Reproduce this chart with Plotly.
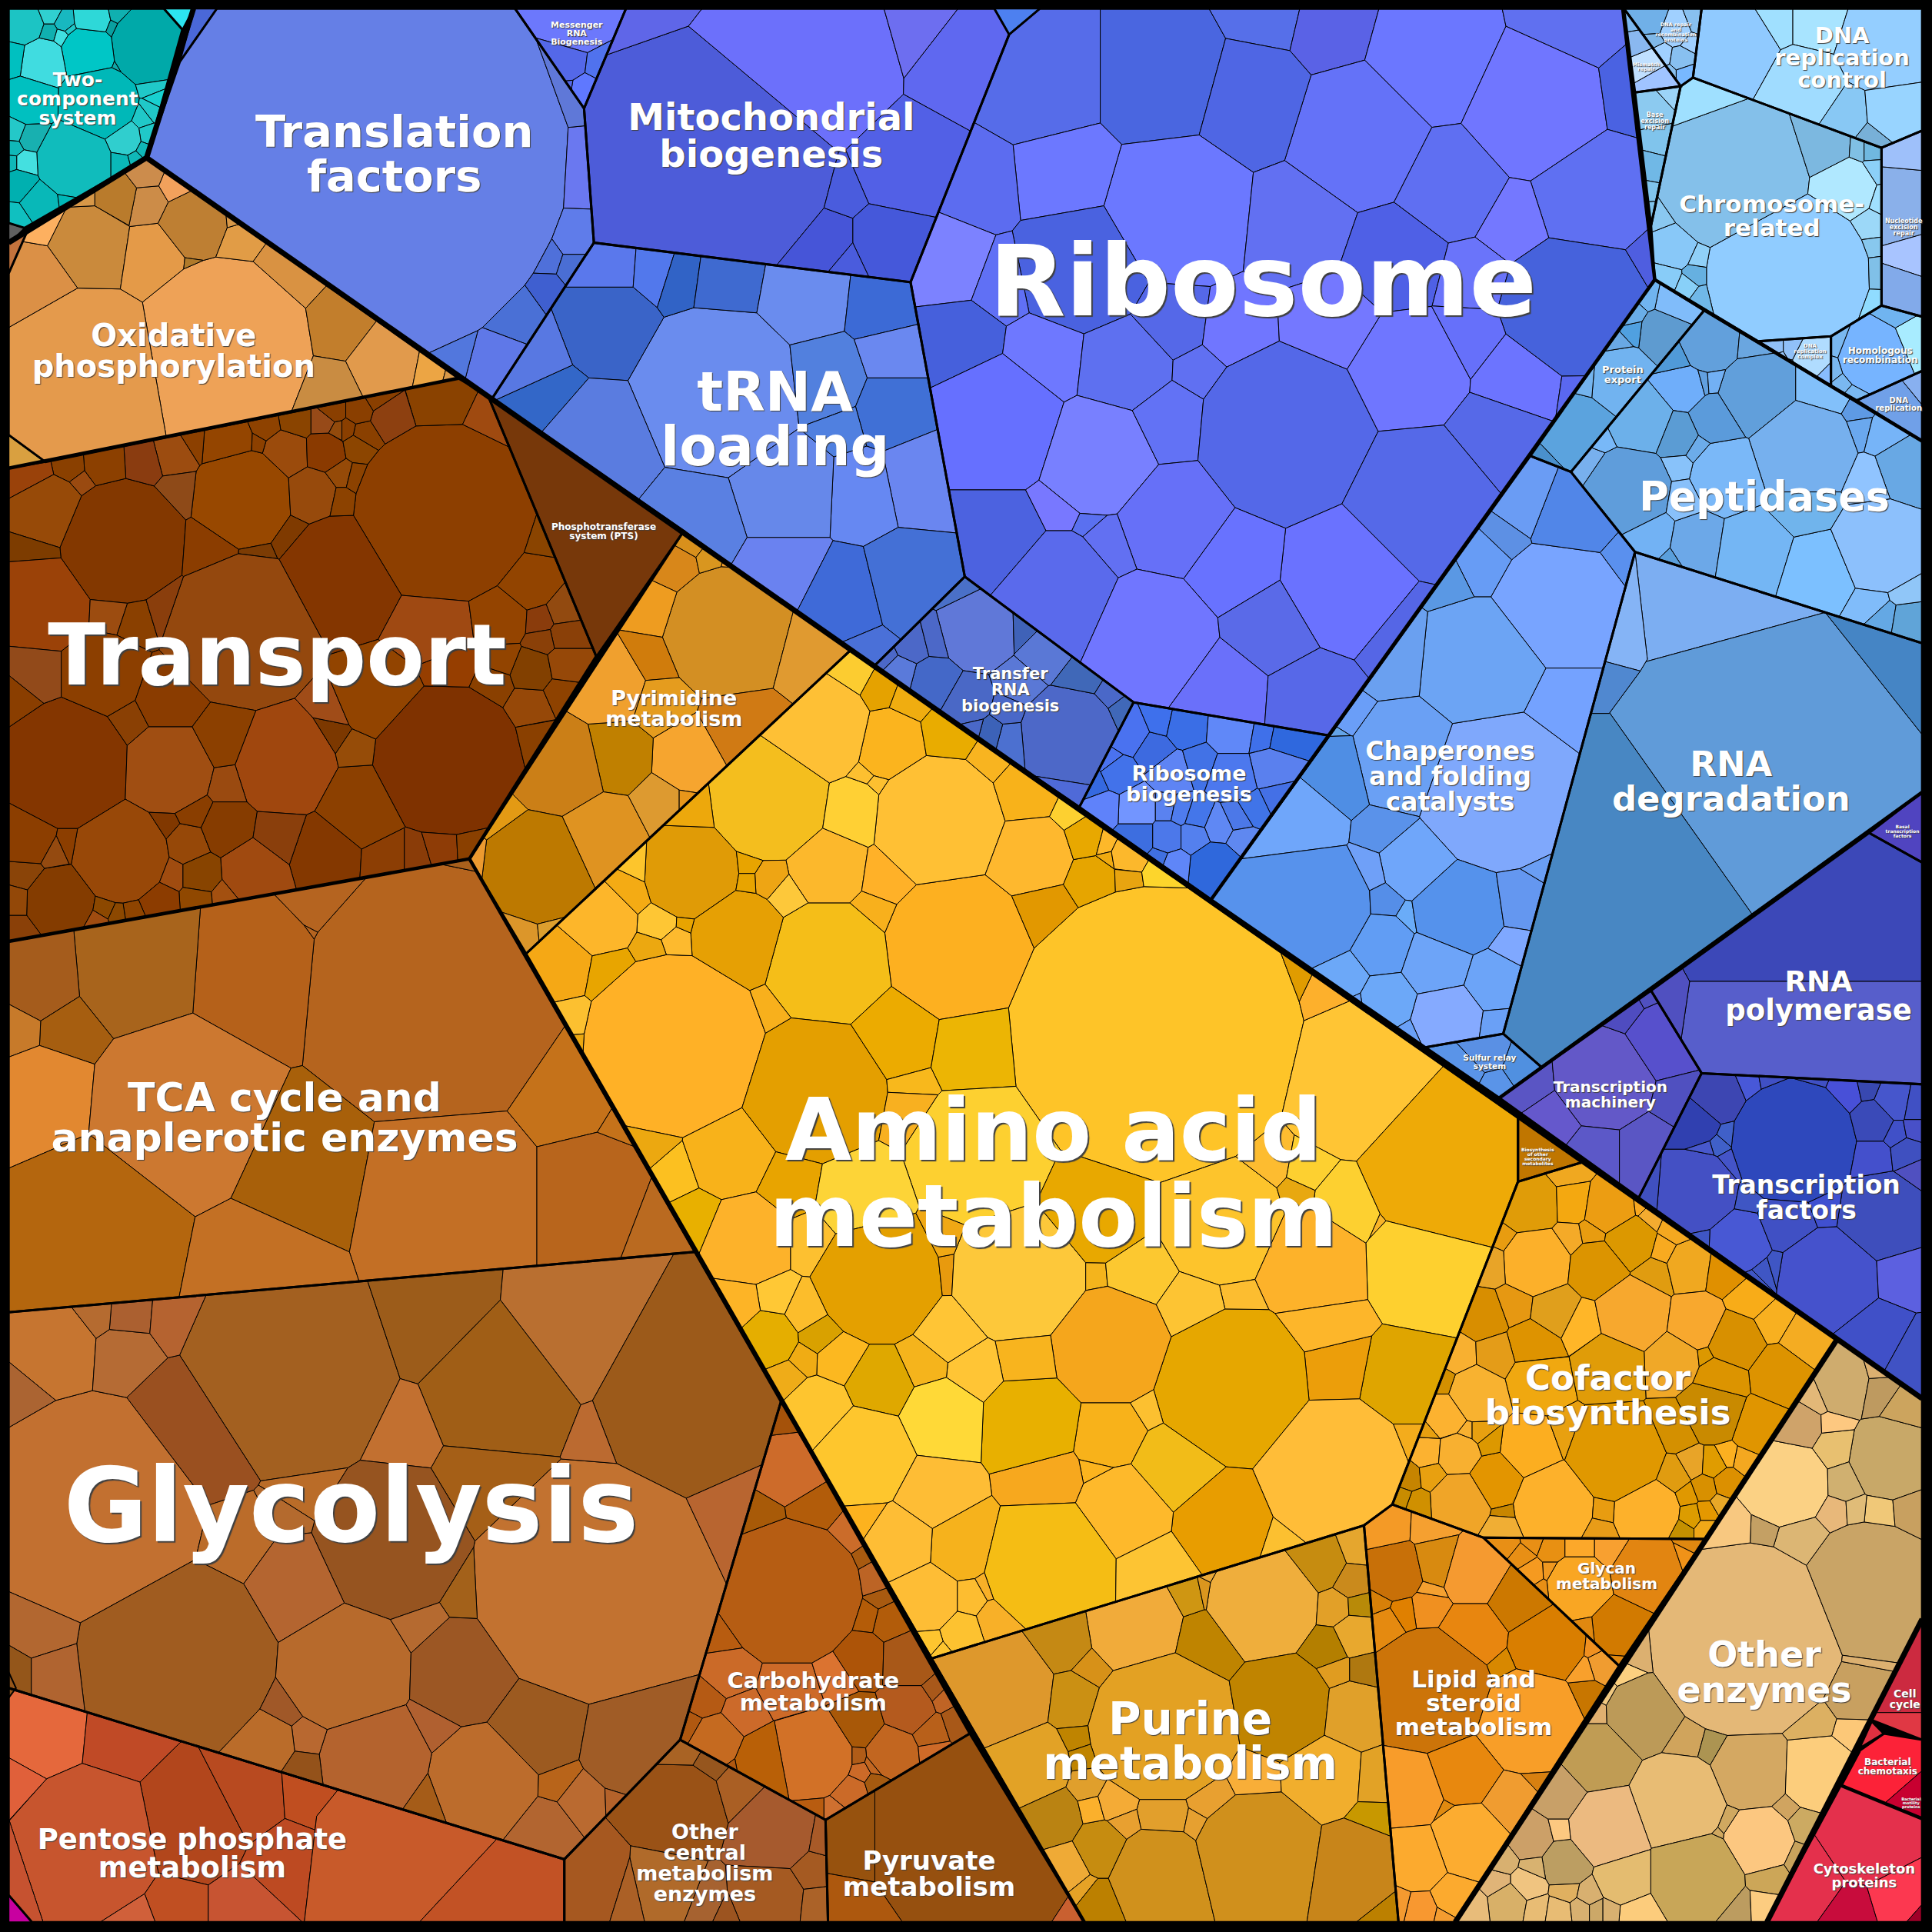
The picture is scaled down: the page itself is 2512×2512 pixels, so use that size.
import plotly.graph_objects as go

# everything in a 1568 wide frame
# outlines are the group borders, cells are (x, y, radius, colour) of the seeds,
# the cell polygons come from a power diagram inside each outline
PIC = 1568
PX = 2512 / PIC

two_component_outline = [(7, 7), (133, 7), (148, 24), (119, 128), (20, 185), (7, 181)]
two_component_cells = [
    (120, 37, 30, "#00a9a9"), (72, 43, 22, "#00c6c6"), (75, 17, 14, "#2ed8d8"), (35, 50, 18, "#40dce0"),
    (20, 20, 14, "#1cc4c4"), (40, 12, 5, "#30d0d0"), (53, 19, 6, "#18b8c0"), (40, 27, 5, "#10b0b0"),
    (50, 30, 5, "#40e0e0"), (57, 24, 4, "#20c8c8"), (14, 47, 8, "#00c0c0"), (80, 83, 30, "#00b8b8"),
    (25, 82, 18, "#00c0c0"), (125, 70, 5, "#20c8c8"), (129, 80, 5, "#18d0d0"), (124, 90, 4, "#20c8c8"),
    (115, 97, 5, "#20c8c8"), (119, 109, 6, "#20c8c8"), (100, 112, 14, "#30cece"), (60, 130, 30, "#10bcbc"),
    (26, 112, 10, "#18b0b0"), (13, 107, 7, "#24c8c8"), (12, 120, 5, "#10b8b8"), (22, 132, 9, "#44e0e0"),
    (11, 132, 4, "#10b8b8"), (17, 150, 12, "#00b0b0"), (32, 163, 14, "#08b8b8"), (55, 160, 5, "#00b8b8"),
    (14, 175, 6, "#10c0c0"), (97, 130, 7, "#0ab8b8"), (108, 127, 3, "#10b8b8"), (115, 120, 3, "#10b8b8"),
    (90, 23, 5, "#0aa0a0"), (95, 13, 4, "#10b0b0"), (95, 52, 4, "#10a8a8"),
]

oxidative_outline = [(119, 128), (372, 307), (37, 375), (7, 353), (7, 222), (22, 188)]
oxidative_cells = [
    (183, 280, 70, "#eea257"), (70, 300, 65, "#e49a4c"), (72, 200, 32, "#ca8a3c"), (125, 208, 25, "#e49a48"),
    (30, 230, 30, "#db9046"), (157, 183, 27, "#be7f33"), (120, 165, 15, "#cc8c48"), (95, 160, 17, "#b97b2c"),
    (118, 142, 12, "#cc8c4c"), (142, 152, 11, "#f2a15c"), (38, 183, 13, "#fdb060"), (70, 160, 3, "#d89848"),
    (193, 197, 14, "#e19c46"), (232, 225, 26, "#d99242"), (188, 180, 3, "#d89848"), (275, 265, 27, "#c27e2c"),
    (310, 292, 28, "#e19a4c"), (267, 313, 22, "#c98c42"), (350, 300, 11, "#eca544"), (365, 304, 3, "#d89848"),
    (153, 211, 3, "#b07a2a"),
]

translation_outline = [(146, 50), (176, 7), (418, 7), (474, 88), (482, 197), (399, 324), (119, 128)]
translation_cells = [
    (295, 130, 165, "#657fe6"), (467, 140, 17, "#6a78f0"), (465, 195, 10, "#5f7cea"), (444, 210, 9, "#4f70da"),
    (465, 217, 9, "#4a6ed4"), (443, 235, 10, "#3f5fd0"), (418, 253, 18, "#4a70d6"), (403, 293, 18, "#5f78e8"),
    (365, 283, 15, "#5277dd"), (460, 70, 6, "#5f78d8"),
]

messenger_outline = [(418, 7), (508, 7), (474, 88)]
messenger_cells = [
    (468, 22, 20, "#6c78fc"), (460, 50, 15, "#5468e8"), (474, 72, 10, "#5f78ff"), (484, 53, 7, "#5072ee"),
    (462, 70, 2, "#5468e8"),
]

mitochondrial_outline = [(508, 7), (807, 7), (819, 28), (739, 229), (482, 197), (474, 88)]
mitochondrial_cells = [
    (590, 130, 85, "#4d5cd9"), (657, 50, 70, "#6c70fb"), (745, 25, 22, "#6d6ef0"), (781, 53, 35, "#5f68f0"),
    (737, 133, 40, "#5260e6"), (724, 197, 30, "#4558da"), (671, 197, 18, "#4655d8"), (690, 213, 12, "#4a5cdd"),
    (686, 155, 3, "#4a5cdd"), (526, -52, 29, "#5f66e8"),
]

ribosome_outline = [(844, 7), (1317, 7), (1343, 227), (1079, 597), (920, 570), (783, 468), (739, 229), (819, 28)]
ribosome_cells = [
    (844, 63, 50, "#566ce9"), (944, 63, 52, "#4a66e0"), (1030, 15, 25, "#566fe9"), (1081, 27, 32, "#5a62e6"),
    (1164, 50, 55, "#6b77ff"), (1271, 27, 35, "#6070f0"), (1244, 87, 60, "#7076ff"), (1314, 77, 22, "#4a62e2"),
    (1104, 110, 60, "#6472f8"), (1177, 147, 48, "#5f6ff2"), (1291, 157, 50, "#5f70f2"), (1229, 177, 33, "#7478ff"),
    (1017, 83, 48, "#4f66e4"), (957, 170, 60, "#6b78ff"), (864, 143, 38, "#6c78ff"), (794, 150, 30, "#5c6cf0"),
    (877, 217, 52, "#4a62e0"), (769, 213, 33, "#7c82ff"), (814, 230, 25, "#6070f5"), (777, 280, 35, "#4660dc"),
    (849, 290, 33, "#6e78ff"), (911, 297, 38, "#5e70f0"), (951, 260, 28, "#5568e8"), (1002, 267, 25, "#7076ff"),
    (972, 300, 14, "#6070f2"), (807, 343, 55, "#6670ff"), (891, 370, 47, "#7880ff"), (946, 343, 30, "#6272f5"),
    (1044, 352, 70, "#5468e8"), (1054, 180, 45, "#6270f2"), (1132, 207, 42, "#4f60e6"), (1194, 223, 28, "#6a74fa"),
    (1277, 247, 58, "#4662dc"), (1339, 210, 8, "#4f5ee0"), (1081, 263, 35, "#7478ff"), (1144, 302, 48, "#6f76ff"),
    (1191, 277, 28, "#6670fa"), (1231, 308, 35, "#6c74ff"), (1278, 315, 9, "#5a68f0"), (1214, 357, 40, "#5669e8"),
    (1154, 407, 62, "#5569e8"), (1094, 467, 55, "#6a72ff"), (1134, 500, 28, "#5566e6"), (1001, 457, 40, "#6872ff"),
    (954, 423, 45, "#6670f8"), (857, 412, 15, "#7878ff"), (887, 426, 5, "#5a70f0"), (901, 442, 20, "#6270f2"),
    (807, 437, 40, "#4c62e0"), (857, 480, 48, "#5a6aec"), (935, 515, 50, "#7076ff"), (1030, 505, 35, "#5a6ae8"),
    (990, 555, 30, "#6a70fa"), (1060, 560, 20, "#5768e8"),
]

trna_outline = [(482, 197), (739, 229), (783, 468), (709, 541), (399, 324)]
trna_cells = [
    (581, 317, 66, "#6a8cee"), (493, 267, 35, "#3a64c8"), (448, 323, 24, "#3367c8"), (433, 290, 25, "#5878e2"),
    (487, 357, 45, "#5a7ce0"), (493, 217, 18, "#5a78ec"), (533, 220, 13, "#5278ec"), (552, 226, 14, "#3163c6"),
    (588, 231, 22, "#3f6ad0"), (653, 243, 30, "#6a8cee"), (716, 250, 22, "#3c6ad6"), (669, 307, 30, "#5280de"),
    (725, 288, 22, "#6a88f0"), (725, 330, 26, "#4070d6"), (749, 390, 30, "#6a86f0"), (701, 400, 25, "#6688f2"),
    (637, 397, 38, "#6688ea"), (564, 420, 32, "#5a80e2"), (637, 463, 25, "#6a82f0"), (684, 487, 30, "#3f6ad8"),
    (741, 473, 35, "#4470d6"), (682, 342, 6, "#5080e0"), (700, 525, 5, "#4a70d8"),
]

transfer_outline = [(783, 468), (920, 570), (876, 655), (709, 541)]
transfer_cells = [
    (867, 596, 38, "#4d68c8"), (794, 511, 29, "#6078d8"), (757, 554, 17, "#4468c8"), (785, 570, 16, "#4a68c6"),
    (876, 550, 15, "#4068b8"), (850, 530, 18, "#5a78d6"), (828, 555, 12, "#5a78d6"), (820, 600, 12, "#4c70d0"),
    (805, 596, 10, "#3c62b8"), (730, 547, 12, "#5a7ada"), (718, 535, 6, "#4c68c8"), (740, 525, 9, "#4c68c8"),
    (760, 520, 5, "#4c68c8"), (830, 510, 9, "#3f62b8"), (778, 478, 8, "#4a70c8"), (860, 640, 8, "#4f6ad8"),
    (909, 577, 7, "#4068b8"), (900, 565, 7, "#4a68c8"), (790, 592, 6, "#4a68c8"), (818, 578, 8, "#4a68c8"),
]

ribo_biogenesis_outline = [(920, 570), (1079, 597), (983, 730), (876, 655)]
ribo_biogenesis_cells = [
    (917, 596, 12, "#4a72f0"), (937, 609, 11, "#3d6ae0"), (943, 585, 8, "#3e70ec"), (961, 589, 13, "#3a6ee6"),
    (1001, 592, 16, "#6088f8"), (1024, 596, 8, "#3f70ea"), (1039, 599, 6, "#2f68de"), (901, 621, 6, "#4a72f0"),
    (1031, 624, 13, "#5a80ee"), (1036, 647, 8, "#4470e6"), (889, 637, 9, "#3569e0"), (907, 629, 12, "#4272ea"),
    (951, 627, 13, "#5e84f4"), (972, 621, 8, "#4272e6"), (1001, 631, 16, "#4c78ee"), (922, 657, 15, "#7295ff"),
    (896, 656, 13, "#5f82fa"), (947, 657, 8, "#5a82f0"), (957, 659, 8, "#4f7cee"), (972, 664, 9, "#4476ea"),
    (1004, 664, 9, "#4c78e8"), (989, 671, 11, "#5f88f4"), (1017, 656, 9, "#4074e8"), (922, 679, 14, "#3d6ee0"),
    (947, 679, 12, "#4c78ea"), (969, 679, 11, "#5480ee"), (1007, 681, 8, "#5f88f0"), (986, 704, 19, "#2f68dc"),
    (954, 701, 9, "#5f86f8"), (941, 696, 5, "#4070e0"),
]

chaperones_outline = [(1079, 597), (1242, 370), (1275, 383), (1327, 448), (1220, 839), (1157, 850), (983, 730)]
chaperones_cells = [
    (1217, 641, 65, "#7fa8fc"), (1267, 490, 50, "#78a4ff"), (1267, 574, 28, "#74a2ff"), (1277, 417, 35, "#5186e8"),
    (1241, 403, 28, "#6a9cf4"), (1317, 453, 11, "#5a90ee"), (1220, 433, 11, "#5d90e4"), (1201, 453, 17, "#679cf5"),
    (1201, 541, 50, "#6ca4f4"), (1131, 534, 30, "#6aa0f0"), (1177, 465, 6, "#5a98e4"), (1141, 614, 45, "#6aa0f4"),
    (1096, 582, 12, "#6a9ef8"), (1086, 598, 5, "#64a4e8"), (1087, 627, 30, "#4f8ee4"), (1055, 665, 32, "#6fa6fa"),
    (1064, 734, 48, "#5792ec"), (1127, 673, 16, "#5a92ea"), (1151, 701, 30, "#6fa6fa"), (1114, 709, 11, "#6fa0f8"),
    (1125, 731, 13, "#558ee8"), (1145, 743, 10, "#6aacf8"), (1184, 737, 38, "#5592ec"), (1232, 730, 22, "#6497f0"),
    (1226, 768, 13, "#7fa8ff"), (1122, 767, 25, "#619df4"), (1166, 782, 28, "#6da4f8"), (1211, 796, 23, "#6ca4f8"),
    (1174, 824, 28, "#85aaff"), (1214, 830, 9, "#6aa0f6"), (1127, 811, 22, "#6ca8f8"), (1091, 791, 18, "#6ca8f8"),
    (1247, 705, 6, "#6a9ef4"), (1143, 838, 5, "#6aa0f6"), (1102, 815, 4, "#6aa0f6"),
]

sulfur_outline = [(1157, 850), (1220, 839), (1251, 866), (1217, 891)]
sulfur_cells = [(1204, 852, 12, "#5a90e4"), (1185, 870, 14, "#5a94e8"), (1240, 865, 12, "#5090e0"), (1212, 884, 5, "#5a94e8")]

rna_degradation_outline = [(1327, 448), (1560, 522), (1560, 643), (1251, 866), (1220, 839)]
rna_main_outline = [(1327, 448), (1560, 522), (1560, 643), (1251, 866), (1220, 839), (1291, 579), (1306, 579), (1331, 545), (1337, 535)]
rna_main_cells = [(1395, 490, 46, "#7caef2"), (1429, 614, 105, "#609bd9"), (1299, 706, 105, "#4887c3"), (1560, 510, 31, "#4585c5")]
rna_left_outline = [(1327, 448), (1337, 535), (1331, 545), (1306, 579), (1291, 579)]
rna_left_cells = [(1325, 515, 20, "#85b4f6"), (1311, 567, 20, "#5088d0")]

protein_export_outline = [(1343, 227), (1383, 252), (1275, 383), (1242, 370)]
protein_export_cells = [
    (1281, 353, 28, "#5ba3de"), (1317, 307, 25, "#71b3f0"), (1351, 272, 20, "#5e9bd0"), (1258, 375, 8, "#4a90cc"),
    (1327, 269, 6, "#50a0e0"), (1324, 255, 7, "#6aaee8"), (1313, 282, 7, "#69a8e4"), (1362, 245, 17, "#80bcfa"),
    (1338, 240, 6, "#70b4f0"), (1293, 305, 8, "#74b4ee"),
]

peptidases_outline = [(1383, 252), (1560, 358), (1560, 522), (1327, 448), (1275, 383)]
peptidases_cells = [
    (1387, 278, 24, "#62a0dc"), (1420, 281, 9, "#6aa6e0"), (1426, 320, 31, "#619fdb"), (1478, 320, 20, "#82c0fa"),
    (1508, 337, 8, "#5e9ae4"), (1510, 350, 12, "#6aa8ee"), (1530, 355, 17, "#76b4f8"), (1545, 380, 25, "#68a8e4"),
    (1464, 367, 42, "#76b0ee"), (1402, 387, 30, "#7ab8f8"), (1367, 313, 17, "#6faefa"), (1362, 290, 12, "#509ad8"),
    (1378, 310, 10, "#62a0e0"), (1392, 309, 8, "#72b0f4"), (1394, 340, 20, "#5b9bdb"), (1331, 343, 25, "#6cb0ea"),
    (1361, 355, 17, "#5b9cd4"), (1363, 378, 11, "#88c2fa"), (1377, 365, 11, "#6cacea"), (1322, 397, 34, "#5f9ddb"),
    (1294, 378, 10, "#78b0ee"), (1302, 357, 5, "#78b8f8"), (1340, 433, 18, "#72b2f4"), (1379, 440, 23, "#6ca8e8"),
    (1359, 453, 6, "#5a9fdc"), (1424, 447, 32, "#74b6f4"), (1476, 463, 32, "#7cc0ff"), (1367, 405, 15, "#88c0fa"),
    (1464, 407, 28, "#70b4ec"), (1524, 443, 38, "#8cc0fc"), (1517, 390, 20, "#90c4ff"), (1518, 487, 13, "#80bcfa"),
    (1530, 500, 10, "#64a8e4"), (1548, 503, 13, "#60a4d8"), (1545, 480, 10, "#90c6f8"),
]

chromosome_outline = [(1364, 70), (1374, 63), (1527, 120), (1527, 248), (1486, 273), (1427, 277), (1343, 227), (1340, 183)]
chromosome_cells = [
    (1451, 223, 66, "#90ccff"), (1407, 143, 60, "#84c0ea"), (1387, 88, 24, "#9fe0ff"), (1479, 120, 22, "#7cb8e0"),
    (1496, 153, 25, "#b0e8ff"), (1516, 183, 11, "#9cd8f8"), (1526, 163, 7, "#a0e0ff"), (1518, 198, 5, "#88c8ee"),
    (1521, 221, 7, "#80c0e8"), (1520, 248, 6, "#90dcff"), (1520, 122, 8, "#70b8e0"), (1508, 122, 6, "#80c0e4"),
    (1521, 137, 7, "#8cd0f8"), (1357, 200, 18, "#88c8f8"), (1351, 224, 11, "#88ccf8"), (1379, 210, 7, "#90d0f8"),
    (1377, 223, 8, "#66b0e0"), (1370, 232, 7, "#88d0f8"), (1381, 240, 6, "#70b8e8"), (1350, 130, 6, "#a0e0ff"),
    (1350, 182, 7, "#8ac8f0"),
]

base_excision_outline = [(1327, 75), (1364, 70), (1340, 183)]
base_excision_cells = [
    (1345, 90, 10, "#8ccaf0"), (1350, 115, 11, "#80c4ec"), (1345, 135, 10, "#70b8e6"), (1341, 157, 5, "#80c4ec"),
    (1342, 170, 5, "#80c4ec"), (1358, 78, 6, "#9cd4f8"),
]

mismatch_outline = [(1318, 7), (1364, 70), (1327, 75)]
mismatch_cells = [(1335, 52, 9, "#c0e0ff"), (1344, 68, 9, "#a0c4ff"), (1328, 35, 8, "#8ab8f0"), (1325, 17, 5, "#7cb8f0")]

dna_repair_outline = [(1318, 7), (1381, 7), (1374, 63), (1364, 70)]
dna_repair_cells = [
    (1360, 25, 10, "#a0d0ff"), (1341, 18, 7, "#70b0e8"), (1378, 18, 5, "#88c0f0"), (1347, 45, 8, "#a0d0ff"),
    (1365, 48, 8, "#88c0f0"), (1354, 60, 4, "#88c0f0"), (1369, 60, 7, "#78b8ff"), (1372, 35, 4, "#a0d0ff"),
    (1342, 35, 4, "#80b8e8"),
]

dna_control_outline = [(1381, 7), (1560, 7), (1560, 106), (1527, 120), (1374, 63)]
dna_control_cells = [
    (1407, 40, 35, "#90caff"), (1439, 20, 15, "#a0e0ff"), (1473, 20, 17, "#a8e4ff"), (1527, 37, 32, "#94ceff"),
    (1461, 70, 30, "#a0dcff"), (1498, 95, 15, "#88c8f4"), (1519, 112, 8, "#78b0d8"), (1535, 92, 18, "#98d4ff"),
]

nucleotide_outline = [(1527, 120), (1560, 106), (1560, 257), (1527, 248)]
nucleotide_cells = [(1535, 170, 28, "#8ab0ea"), (1540, 115, 10, "#9ec0fa"), (1545, 205, 14, "#a8c4ff"), (1535, 235, 18, "#82aaea")]

dna_complex_outline = [(1427, 277), (1486, 273), (1486, 313)]
dna_complex_cells = [
    (1470, 290, 13, "#b0dcff"), (1437, 283, 7, "#90c0f8"), (1456, 283, 4, "#90c0f8"), (1485, 305, 4, "#88bcff"),
    (1452, 301, 4, "#90c0f8"), (1440, 293, 7, "#98c8ff"),
]

homologous_outline = [(1486, 273), (1527, 248), (1560, 257), (1560, 301), (1507, 325), (1486, 313)]
homologous_cells = [
    (1521, 290, 28, "#76b4ff"), (1552, 277, 15, "#a8ecff"), (1540, 256, 5, "#70b4f0"), (1495, 280, 6, "#7ab8f0"),
    (1489, 300, 4, "#7ab8f0"), (1497, 310, 4, "#7ab8f0"), (1506, 318, 4, "#7ab8f0"),
]

dna_replication_outline = [(1507, 325), (1560, 301), (1560, 358)]
dna_replication_cells = [(1530, 330, 25, "#70a0e8"), (1552, 312, 8, "#88b0f0")]

polymerase_outline = [(1517, 676), (1560, 700), (1560, 880), (1381, 871), (1340, 804)]
polymerase_cells = [(1465, 725, 70, "#3c48b8"), (1465, 868, 70, "#575ecb"), (1261, 838, 70, "#5050c0")]

basal_outline = [(1517, 676), (1560, 643), (1560, 700)]
basal_cells = [(1545, 672, 10, "#5044c0")]

machinery_outline = [(1340, 804), (1381, 871), (1330, 972), (1217, 891)]
machinery_cells = [
    (1244, 882, 18, "#5a55c4"), (1301, 877, 40, "#6358c8"), (1351, 844, 30, "#5750cc"), (1363, 892, 18, "#5050c0"),
    (1261, 907, 22, "#6558cc"), (1295, 934, 22, "#5c58c8"), (1337, 934, 25, "#5a56c4"), (1321, 821, 13, "#4f4cc0"),
    (1337, 812, 6, "#5050c0"),
]

factors_outline = [(1381, 871), (1560, 880), (1560, 1135), (1330, 972)]
factors_cells = [
    (1456, 927, 50, "#2e48bc"), (1394, 891, 20, "#3d46b2"), (1377, 911, 18, "#3040b0"), (1377, 967, 32, "#4450c4"),
    (1340, 964, 10, "#4050c0"), (1411, 1007, 24, "#4858d4"), (1451, 991, 22, "#4050c4"), (1484, 1037, 40, "#4552cc"),
    (1527, 987, 35, "#3e4ebc"), (1481, 980, 13, "#4050d0"), (1519, 939, 15, "#4450cc"), (1519, 911, 17, "#3a4ab8"),
    (1497, 889, 12, "#4850d8"), (1537, 894, 14, "#4656cc"), (1537, 920, 9, "#4050c8"), (1553, 917, 6, "#4850c8"),
    (1547, 936, 11, "#3f50c0"), (1553, 897, 10, "#4050c4"), (1553, 950, 8, "#5050c0"), (1541, 1034, 18, "#5c60e0"),
    (1521, 1084, 25, "#4050c8"), (1550, 1100, 18, "#4052c4"), (1394, 929, 6, "#4060c8"), (1401, 921, 5, "#4060c8"),
    (1385, 920, 5, "#4060c8"), (1384, 932, 6, "#4858cc"), (1403, 945, 8, "#4454c8"), (1432, 1033, 5, "#3f56c4"),
    (1442, 1030, 4, "#3f56c4"), (1425, 1040, 4, "#3f56c4"), (1417, 975, 4, "#3f56c4"), (1385, 1006, 5, "#3f56c4"),
    (1420, 880, 7, "#4858d8"), (1436, 877, 6, "#4050c4"), (1470, 877, 6, "#4050c4"), (1515, 885, 5, "#3848b0"),
]

other_enzymes_outline = [(1491, 1087), (1560, 1135), (1560, 1314), (1434, 1560), (1181, 1560)]
other_enzymes_cells = [
    (1417, 1331, 78, "#e4b877"), (1517, 1291, 55, "#c9a466"), (1449, 1204, 35, "#fbd184"), (1534, 1184, 32, "#c8a868"),
    (1494, 1124, 22, "#cfac6e"), (1458, 1158, 20, "#cfa36a"), (1473, 1133, 13, "#e3b878"), (1487, 1176, 14, "#e8c070"),
    (1485, 1157, 6, "#fdc880"), (1526, 1130, 12, "#be9a60"), (1525, 1115, 4, "#ddb070"), (1545, 1143, 14, "#cca45e"),
    (1496, 1203, 14, "#d0b070"), (1488, 1227, 11, "#e8b87a"), (1462, 1251, 20, "#dcb674"), (1526, 1228, 11, "#f0c878"),
    (1549, 1226, 12, "#c8a060"), (1505, 1226, 7, "#e0bc78"), (1432, 1242, 10, "#c4a064"), (1405, 1241, 15, "#f8c880"),
    (1334, 1391, 30, "#bc9a58"), (1297, 1427, 28, "#c09c54"), (1368, 1413, 13, "#d0a45c"), (1390, 1419, 10, "#ac9452"),
    (1421, 1437, 32, "#d4a862"), (1362, 1462, 38, "#e8bc74"), (1476, 1439, 30, "#fccd7c"), (1472, 1397, 15, "#dcb062"),
    (1503, 1406, 12, "#fcc878"), (1504, 1374, 22, "#c8a060"), (1510, 1342, 5, "#dcb070"), (1306, 1482, 32, "#ecba80"),
    (1427, 1494, 28, "#fcc780"), (1377, 1524, 38, "#c8a658"), (1407, 1549, 16, "#bc9c60"), (1434, 1521, 15, "#cca658"),
    (1430, 1548, 12, "#fccc80"), (1455, 1507, 8, "#c8a25c"), (1464, 1481, 11, "#ccaa62"), (1450, 1468, 6, "#d0a460"),
    (1404, 1479, 9, "#d0a860"), (1392, 1490, 5, "#d0a860"), (1270, 1512, 18, "#bc9e62"), (1243, 1492, 16, "#cca068"),
    (1267, 1455, 20, "#c8a068"), (1319, 1524, 22, "#e4bc70"), (1330, 1552, 15, "#fccc7c"), (1240, 1530, 12, "#f0c480"),
    (1224, 1545, 15, "#d8b068"), (1246, 1516, 8, "#d8b270"), (1246, 1549, 9, "#e8bc74"), (1265, 1552, 9, "#e8bc74"),
    (1283, 1550, 7, "#d8b070"), (1296, 1550, 6, "#cca868"), (1307, 1550, 7, "#d8b070"), (1215, 1530, 8, "#e0b478"),
    (1197, 1548, 9, "#e8bc7a"), (1220, 1510, 6, "#d8b070"), (1267, 1486, 6, "#fcc880"), (1271, 1534, 7, "#e0b060"),
    (1290, 1538, 7, "#d8b070"), (1321, 1361, 8, "#fcd080"), (1330, 1340, 12, "#dcb070"), (1297, 1392, 6, "#e0b070"),
    (1306, 1375, 4, "#f0c880"),
]

lipid_outline = [(1107, 1238), (1130, 1221), (1204, 1248), (1314, 1352), (1181, 1560), (1135, 1560)]
lipid_cells = [
    (1162, 1371, 48, "#cc7409"), (1132, 1276, 22, "#c87008"), (1124, 1238, 15, "#f49a26"), (1162, 1240, 9, "#f5a030"),
    (1168, 1268, 18, "#d88a10"), (1196, 1276, 25, "#f59a30"), (1196, 1327, 25, "#e8860f"), (1234, 1299, 24, "#cc7800"),
    (1256, 1334, 30, "#d97e00"), (1159, 1304, 11, "#f09020"), (1125, 1316, 8, "#e58a10"), (1139, 1307, 7, "#e08000"),
    (1161, 1292, 5, "#f4a030"), (1119, 1300, 6, "#d88008"), (1241, 1397, 42, "#f89e28"), (1189, 1439, 28, "#e8880e"),
    (1147, 1454, 26, "#f89c2a"), (1226, 1464, 24, "#f09c30"), (1194, 1494, 32, "#fcac30"), (1152, 1509, 25, "#fcaa2e"),
    (1181, 1537, 18, "#fcaa2e"), (1154, 1549, 12, "#f89830"), (1137, 1545, 6, "#f49a30"), (1172, 1553, 7, "#f49c30"),
    (1174, 1467, 8, "#e08a10"), (1286, 1376, 10, "#c87600"), (1300, 1350, 10, "#f09c30"), (1284, 1355, 8, "#f8a02c"),
    (1244, 1447, 8, "#d88010"), (1294, 1338, 6, "#f09020"), (1217, 1351, 5, "#d88800"),
]

glycan_outline = [(1204, 1248), (1384, 1249), (1314, 1352)]
glycan_cells = [
    (1281, 1287, 25, "#f9a623"), (1337, 1277, 28, "#e28511"), (1316, 1321, 23, "#d27a00"), (1307, 1258, 10, "#f8a030"),
    (1281, 1258, 10, "#fca82a"), (1260, 1258, 9, "#e89012"), (1260, 1275, 6, "#f09820"), (1243, 1276, 8, "#f59a20"),
    (1235, 1263, 7, "#e88f15"), (1244, 1252, 5, "#e88f15"), (1225, 1255, 4, "#e88f15"), (1252, 1290, 4, "#e88f15"),
    (1369, 1266, 7, "#f09218"), (1375, 1254, 5, "#e08810"), (1288, 1324, 5, "#e08810"), (1314, 1347, 4, "#e08810"),
]

secondary_outline = [(1232, 907), (1285, 943), (1232, 959)]
secondary_cells = [(1248, 938, 10, "#c07600")]

cofactor_outline = [(1232, 959), (1285, 943), (1491, 1087), (1384, 1249), (1204, 1248), (1130, 1221)]
cofactor_cells = [
    (1241, 977, 24, "#e09c08"), (1271, 951, 10, "#f0a820"), (1275, 976, 14, "#f4a810"), (1307, 981, 20, "#ec9d12"),
    (1247, 1024, 27, "#fcb02a"), (1273, 1006, 10, "#f4aa28"), (1293, 1002, 9, "#e89c10"), (1323, 1007, 20, "#dc9800"),
    (1296, 1029, 22, "#dc9400"), (1342, 1033, 10, "#e09c10"), (1349, 1014, 8, "#f8aa20"), (1372, 1026, 17, "#f0a820"),
    (1360, 996, 11, "#f4a820"), (1340, 987, 8, "#f4ac30"), (1331, 978, 6, "#f8a820"), (1400, 1030, 15, "#e09000"),
    (1221, 1005, 7, "#e89c10"), (1212, 1026, 11, "#e8a428"), (1205, 1069, 17, "#d88e00"), (1230, 1060, 13, "#e69812"),
    (1262, 1064, 19, "#e09f1c"), (1244, 1092, 20, "#de9300"), (1284, 1075, 16, "#ffb628"), (1324, 1067, 28, "#f7a82e"),
    (1377, 1074, 20, "#f8a82e"), (1409, 1089, 22, "#d89000"), (1422, 1055, 14, "#f8ac18"), (1439, 1073, 14, "#f8b020"),
    (1466, 1089, 20, "#f4ac22"), (1446, 1116, 24, "#dd9300"), (1429, 1157, 22, "#e09500"), (1185, 1101, 12, "#f8b030"),
    (1215, 1100, 16, "#e49c18"), (1247, 1119, 22, "#f0a810"), (1199, 1131, 22, "#f8b230"), (1173, 1149, 16, "#fcb230"),
    (1159, 1179, 11, "#fcb230"), (1184, 1181, 17, "#f8b030"), (1214, 1202, 22, "#e39500"), (1241, 1177, 22, "#fcae20"),
    (1261, 1221, 32, "#fdb12b"), (1312, 1181, 38, "#e09800"), (1336, 1226, 27, "#fdb12b"), (1303, 1224, 10, "#e89c10"),
    (1186, 1219, 24, "#f0a528"), (1220, 1227, 7, "#c88600"), (1219, 1239, 10, "#f0ae34"), (1299, 1242, 8, "#e89c18"),
    (1364, 1241, 7, "#c49000"), (1143, 1199, 8, "#c68400"), (1163, 1197, 9, "#e8a010"), (1151, 1221, 8, "#d09000"),
    (1137, 1216, 6, "#c88c00"), (1356, 1198, 13, "#e09c10"), (1373, 1188, 8, "#e8a428"), (1391, 1189, 8, "#e09c00"),
    (1403, 1204, 11, "#dc9000"), (1368, 1214, 7, "#e09800"), (1384, 1208, 8, "#d89000"), (1371, 1230, 8, "#dc9c00"),
    (1385, 1227, 6, "#e49800"), (1397, 1220, 6, "#e8a828"), (1385, 1241, 6, "#f0a818"), (1417, 1186, 8, "#f4a820"),
    (1402, 1183, 4, "#fcb020"), (1391, 1144, 25, "#c98a00"), (1360, 1160, 15, "#d49000"), (1397, 1121, 20, "#dc9400"),
    (1358, 1105, 20, "#f0a828"), (1307, 1107, 25, "#e09c08"), (1191, 1163, 6, "#f8b030"), (1200, 1163, 7, "#e8a010"),
    (1208, 1173, 7, "#dc9800"), (1271, 1166, 3, "#e8a010"), (1173, 1122, 6, "#d49000"), (1160, 1160, 5, "#e8a010"),
    (1385, 1102, 5, "#dc9800"),
]

purine_outline = [(756, 1346), (1107, 1238), (1135, 1560), (880, 1560)]
purine_cells = [
    (807, 1371, 48, "#de982c"), (832, 1432, 35, "#e2a226"), (852, 1476, 25, "#ba8312"), (864, 1516, 22, "#efaa36"),
    (877, 1532, 14, "#e6a226"), (892, 1544, 18, "#bc8000"), (941, 1524, 40, "#d0911c"), (1021, 1505, 50, "#d0901c"),
    (892, 1501, 22, "#c68c10"), (944, 1474, 16, "#e29f2c"), (921, 1321, 38, "#f1ab3a"), (861, 1331, 25, "#c58914"),
    (871, 1379, 22, "#cb9013"), (886, 1354, 15, "#d79118"), (944, 1401, 60, "#e3a123"), (979, 1334, 25, "#bf8400"),
    (1025, 1300, 45, "#efae3c"), (1040, 1385, 40, "#c08400"), (966, 1296, 10, "#cf9612"), (980, 1293, 7, "#db961e"),
    (987, 1279, 4, "#e8a838"), (874, 1411, 8, "#bf8400"), (878, 1423, 5, "#bf8400"), (882, 1451, 9, "#e09f2c"),
    (886, 1468, 9, "#fbb02c"), (904, 1463, 12, "#f4ab36"), (911, 1481, 8, "#e8a030"), (984, 1461, 14, "#e8a030"),
    (1017, 1444, 14, "#f8ae38"), (973, 1480, 4, "#e6a030"), (1067, 1267, 25, "#c68c10"), (1098, 1255, 13, "#e5a62e"),
    (1095, 1283, 13, "#ca8a1c"), (1081, 1304, 14, "#e2a028"), (1100, 1303, 7, "#b88a08"), (1098, 1327, 15, "#e8a82e"),
    (1077, 1337, 15, "#b47f00"), (1097, 1391, 25, "#e0a02a"), (1084, 1356, 10, "#e09c20"), (1105, 1356, 8, "#af7810"),
    (1074, 1441, 30, "#f1ae2d"), (1116, 1444, 14, "#e2a226"), (1115, 1476, 5, "#c89800"), (1099, 1517, 35, "#c8851a"),
    (1125, 1550, 8, "#bc8000"),
]

amino_outline = [(690, 528), (1232, 907), (1232, 959), (1130, 1221), (1107, 1238), (756, 1346), (427, 774)]
amino_cells = [
    (938, 838, 118, "#fec428"), (777, 769, 58, "#fdb020"), (762, 666, 52, "#ffc034"), (672, 782, 50, "#f5be18"),
    (624, 649, 48, "#f4be1e"), (547, 848, 73, "#ffb126"), (661, 884, 58, "#e49f00"), (727, 841, 34, "#ecab00"),
    (791, 852, 34, "#ecb504"), (796, 937, 55, "#fdd030"), (737, 878, 13, "#f8b81c"), (736, 898, 14, "#f8b020"),
    (561, 707, 38, "#e09b06"), (599, 762, 38, "#e6a004"), (672, 704, 30, "#fcb82c"), (719, 711, 18, "#ffb128"),
    (708, 740, 12, "#f8b01c"), (691, 659, 24, "#ffd034"), (722, 604, 28, "#fbb41e"), (664, 591, 42, "#fec035"),
    (692, 548, 14, "#fccc30"), (714, 560, 13, "#e5a200"), (738, 569, 14, "#f0ad10"), (769, 596, 20, "#e9ac00"),
    (803, 618, 12, "#f8b420"), (832, 644, 24, "#f8b21a"), (837, 694, 32, "#feb82e"), (847, 739, 22, "#e29800"),
    (886, 714, 18, "#e6a500"), (880, 680, 15, "#e8a800"), (868, 661, 10, "#fdd030"), (895, 684, 8, "#fdb82a"),
    (898, 697, 4, "#f0aa10"), (916, 694, 13, "#fcb82c"), (914, 713, 7, "#e8a410"), (942, 709, 10, "#fdd52c"),
    (563, 657, 18, "#eda80c"), (639, 726, 12, "#fdc83a"), (625, 714, 11, "#eea514"), (606, 702, 6, "#e8a400"),
    (606, 715, 5, "#e8a400"), (537, 750, 10, "#fec634"), (550, 765, 11, "#fdba2e"), (556, 751, 3, "#e8a400"),
    (623, 820, 8, "#f8b01c"), (703, 625, 5, "#fdc030"), (714, 634, 3, "#fdc030"), (530, 772, 8, "#eca810"),
    (455, 784, 22, "#f5a815"), (487, 747, 25, "#fdb62a"), (497, 792, 17, "#e8a500"), (465, 830, 10, "#fcc030"),
    (466, 843, 4, "#eca810"), (512, 722, 10, "#f4ab14"), (520, 705, 8, "#fdc52c"), (549, 952, 19, "#fcc020"),
    (530, 930, 15, "#eca810"), (592, 937, 35, "#f8b21a"), (641, 961, 25, "#e8a400"), (697, 971, 35, "#fdd437"),
    (566, 987, 20, "#e8b000"), (607, 1004, 35, "#fdb22a"), (659, 1004, 18, "#fdc030"), (714, 1037, 50, "#e4a000"),
    (771, 1031, 13, "#e89a0e"), (827, 1034, 55, "#fdc83a"), (767, 1010, 10, "#f0a814"), (891, 981, 45, "#e8a800"),
    (890, 1034, 13, "#f4b41c"), (924, 1031, 28, "#fcc830"), (991, 991, 50, "#fdc42c"), (1026, 945, 14, "#fdbc30"),
    (1104, 877, 62, "#ffc534"), (1174, 941, 70, "#eeaa07"), (1073, 805, 12, "#fdb02c"), (1052, 795, 8, "#e09c00"),
    (1064, 952, 13, "#fdd030"), (1094, 977, 28, "#fdd030"), (1119, 988, 7, "#f8b428"), (1055, 972, 12, "#e8a810"),
    (1154, 1021, 42, "#fed02f"), (1064, 1024, 42, "#fdb22a"), (1134, 1127, 28, "#dfa500"), (1082, 1117, 24, "#ec9e0a"),
    (1071, 1071, 22, "#fdb62a"), (1000, 1125, 62, "#e6a700"), (1084, 1194, 60, "#ffbd38"), (1134, 1174, 17, "#f4ac1c"),
    (1135, 1206, 7, "#fcb820"), (901, 1092, 48, "#f5a61c"), (901, 1164, 28, "#f8b21a"), (931, 1145, 10, "#fcc030"),
    (954, 1191, 35, "#f2bc18"), (991, 1234, 38, "#e89d00"), (914, 1226, 37, "#feb92b"), (895, 1190, 11, "#fcb41e"),
    (849, 1199, 25, "#f7a81e"), (837, 1154, 38, "#e8b000"), (834, 1102, 24, "#f8b41e"), (791, 1111, 22, "#ffc535"),
    (772, 1081, 25, "#ffc535"), (751, 1107, 18, "#f5b41c"), (764, 1151, 32, "#ffd937"), (714, 1124, 26, "#dfa800"),
    (664, 1147, 28, "#fec52f"), (701, 1181, 40, "#fec62d"), (624, 1087, 22, "#e5ae00"), (664, 1084, 13, "#d9a100"),
    (681, 1104, 17, "#fcb820"), (652, 1103, 10, "#f0ac14"), (637, 1119, 14, "#efac18"), (653, 1066, 13, "#fcbd2b"),
    (629, 1055, 10, "#ffc835"), (599, 1060, 15, "#fdb426"), (757, 1211, 28, "#febd35"), (781, 1254, 26, "#f6b21c"),
    (729, 1251, 28, "#febd35"), (751, 1297, 26, "#febd35"), (705, 1235, 14, "#fdb21e"), (852, 1271, 52, "#f5bd14"),
    (937, 1272, 28, "#fdc433"), (787, 1297, 10, "#fdbd30"), (803, 1288, 4, "#f8b028"), (811, 1315, 15, "#f8b028"),
    (780, 1325, 14, "#fdc230"), (754, 1333, 8, "#fec52f"), (762, 1340, 3, "#fec52f"), (1040, 1250, 7, "#fcc030"),
    (1001, 1053, 4, "#fcbd30"), (967, 1061, 25, "#fdc433"),
]

pyrimidine_outline = [(555, 431), (690, 528), (427, 774), (381, 697)]
pyrimidine_cells = [
    (590, 510, 50, "#d38f23"), (655, 527, 22, "#e09a30"), (602, 594, 25, "#d07a14"), (561, 617, 24, "#f6a52f"),
    (497, 614, 25, "#c08000"), (453, 624, 38, "#cb7f17"), (487, 681, 35, "#df9321"), (537, 655, 17, "#dd9a30"),
    (555, 655, 10, "#e8961a"), (437, 704, 45, "#bd7900"), (410, 667, 14, "#e39a14"), (387, 698, 9, "#ec9a30"),
    (420, 755, 14, "#dc962a"), (449, 752, 9, "#dd9f2e"), (493, 557, 27, "#f0a02e"), (551, 463, 17, "#d8871a"),
    (537, 493, 17, "#ee9c20"), (560, 447, 6, "#d8901c"), (574, 458, 10, "#d9961f"), (593, 463, 6, "#faa32a"),
    (530, 535, 9, "#d07c0c"), (533, 570, 12, "#e59c1e"),
]

phospho_outline = [(396, 321), (555, 431), (484, 533)]
phospho_cells = [(490, 430, 30, "#77380a")]

transport_outline = [(7, 380), (372, 307), (396, 321), (484, 533), (381, 697), (7, 764)]
transport_cells = [
    (360, 417, 72, "#8d3f00"), (357, 327, 18, "#8a4200"), (100, 440, 50, "#833800"), (197, 405, 40, "#984800"),
    (232, 368, 18, "#9b4b0c"), (263, 367, 15, "#8a3a00"), (252, 402, 21, "#974a0c"), (185, 360, 20, "#944500"),
    (140, 370, 14, "#9c4c10"), (117, 376, 14, "#8a3c10"), (85, 378, 15, "#8c4000"), (57, 380, 9, "#8a4000"),
    (66, 392, 7, "#9a4a10"), (144, 399, 13, "#8e4a18"), (25, 387, 15, "#9a420a"), (40, 415, 28, "#974a08"),
    (30, 447, 14, "#7d3c00"), (33, 487, 35, "#9b4208"), (170, 445, 22, "#8b3d00"), (205, 447, 7, "#7c3c04"),
    (237, 433, 12, "#7f3a00"), (277, 467, 48, "#843600"), (197, 510, 60, "#94480e"), (95, 490, 10, "#9c4c10"),
    (110, 495, 10, "#8a4000"), (133, 488, 13, "#8a3e0c"), (352, 507, 30, "#9f4912"), (405, 500, 22, "#944400"),
    (428, 472, 22, "#924400"), (437, 502, 9, "#8a3c0c"), (433, 441, 6, "#8a4400"), (455, 495, 8, "#924a10"),
    (458, 516, 8, "#8a4008"), (440, 520, 6, "#8a4008"), (395, 345, 8, "#9f4a10"), (315, 340, 12, "#8d4010"),
    (296, 352, 8, "#8a4000"), (290, 362, 8, "#8c4500"), (262, 343, 8, "#974a18"), (240, 343, 11, "#8a4400"),
    (216, 347, 9, "#8e4200"), (270, 333, 8, "#8a3f00"), (292, 333, 9, "#8a3f00"), (305, 325, 6, "#8a3f00"),
    (273, 349, 4, "#924a0c"), (282, 349, 4, "#8a3f00"), (159, 358, 7, "#8c4000"), (208, 361, 6, "#8c4000"),
    (275, 385, 9, "#954a08"), (275, 407, 10, "#8c4200"), (287, 388, 5, "#8c4200"), (53, 621, 50, "#843600"),
    (137, 624, 35, "#a04e12"), (232, 621, 40, "#a0470e"), (363, 617, 60, "#7f3200"), (293, 654, 33, "#8c4000"),
    (263, 691, 28, "#843800"), (313, 694, 16, "#8c3e04"), (338, 694, 11, "#8a3c08"), (358, 688, 13, "#8e3c06"),
    (378, 687, 7, "#8a4000"), (98, 694, 38, "#984808"), (49, 731, 27, "#843c00"), (207, 707, 26, "#a04a10"),
    (152, 685, 15, "#964808"), (185, 672, 20, "#863c00"), (228, 679, 21, "#8a3f0c"), (185, 636, 13, "#9a4a10"),
    (157, 659, 11, "#8a3e00"), (135, 670, 6, "#813800"), (163, 710, 15, "#884400"), (160, 729, 11, "#904800"),
    (139, 710, 10, "#a04c10"), (129, 731, 14, "#8c3c00"), (108, 740, 6, "#8e4400"), (84, 737, 7, "#8c4800"),
    (95, 742, 5, "#8c4800"), (78, 747, 7, "#a04c10"), (183, 727, 10, "#a35010"), (14, 757, 10, "#8a4008"),
    (20, 708, 12, "#8a4408"), (14, 730, 8, "#934808"), (22, 680, 22, "#8c3e00"), (42, 691, 10, "#944a10"),
    (53, 686, 6, "#8c3e00"), (272, 596, 12, "#7c3800"), (290, 608, 15, "#964c08"), (275, 581, 9, "#a04c18"),
    (308, 567, 32, "#924400"), (365, 540, 18, "#963e00"), (430, 574, 15, "#964808"), (432, 545, 15, "#824000"),
    (455, 563, 11, "#8e4200"), (458, 540, 12, "#964808"), (435, 600, 14, "#8a4000"), (400, 556, 12, "#8a4000"),
    (407, 535, 10, "#924400"), (104, 586, 9, "#8a4004"), (180, 601, 20, "#8c4000"), (137, 569, 22, "#8a3c00"),
    (27, 550, 14, "#924a1a"), (83, 550, 28, "#8c3f00"), (15, 565, 12, "#8a3e00"),
]

tca_outline = [(7, 764), (381, 697), (564, 1016), (7, 1065)]
tca_cells = [
    (350, 807, 105, "#b5641e"), (210, 794, 55, "#b5611a"), (113, 787, 50, "#a8641c"), (33, 794, 30, "#a55c1c"),
    (270, 736, 24, "#b56420"), (370, 710, 6, "#a8601c"), (327, 711, 3, "#b56420"), (57, 832, 17, "#a65e10"),
    (14, 830, 8, "#c77a2a"), (37, 891, 35, "#e28830"), (150, 901, 75, "#cc7830"), (243, 944, 55, "#a8600a"),
    (363, 967, 70, "#c36f25"), (80, 991, 65, "#b4660e"), (210, 1017, 40, "#c37024"), (463, 884, 35, "#c5721a"),
    (483, 967, 43, "#b8651c"), (505, 910, 5, "#c5721a"), (530, 985, 22, "#ba6a20"), (258, 759, 3, "#b56420"),
]

glycolysis_outline = [(7, 1065), (564, 1016), (634, 1137), (552, 1412), (458, 1509), (7, 1370)]
glycolysis_cells = [
    (233, 1114, 85, "#a36020"), (353, 1074, 40, "#9c5c1a"), (463, 1084, 50, "#b96f30"), (407, 1127, 60, "#a05e16"),
    (400, 1201, 40, "#a55f17"), (555, 1135, 70, "#9c5a1a"), (480, 1285, 95, "#c27230"), (327, 1160, 22, "#c27030"),
    (160, 1161, 58, "#9a5020"), (77, 1224, 90, "#c27030"), (43, 1097, 32, "#c67530"), (102, 1101, 22, "#b56b34"),
    (105, 1070, 13, "#ab6030"), (140, 1073, 13, "#b56330"), (80, 1068, 5, "#b56b30"), (20, 1125, 15, "#ab6432"),
    (247, 1207, 18, "#ba6c28"), (317, 1251, 60, "#965420"), (380, 1290, 15, "#a3611a"), (190, 1251, 30, "#bb6c2a"),
    (240, 1287, 38, "#b46530"), (143, 1344, 78, "#a05c20"), (280, 1354, 50, "#b76a2c"), (377, 1357, 40, "#9c5724"),
    (340, 1317, 11, "#b56a30"), (437, 1401, 37, "#9c5a20"), (515, 1415, 42, "#a05c26"), (393, 1444, 42, "#bc6c2c"),
    (303, 1427, 42, "#b4632e"), (350, 1460, 10, "#a55c18"), (443, 1484, 20, "#b26530"), (454, 1446, 11, "#b8641a"),
    (473, 1461, 17, "#ba6a30"), (501, 1460, 7, "#b4622a"), (250, 1410, 10, "#b86830"), (247, 1434, 9, "#94521a"),
    (217, 1414, 20, "#ba6c2a"), (231, 1388, 6, "#a05828"), (33, 1325, 20, "#b26730"), (43, 1356, 18, "#b06430"),
    (15, 1356, 11, "#94561a"), (354, 1400, 6, "#b06030"), (490, 1160, 5, "#bb6a30"), (233, 1229, 6, "#b46a2e"),
    (597, 1230, 12, "#b86530"),
]

pentose_outline = [(7, 1370), (458, 1509), (458, 1560), (26, 1560), (7, 1538)]
pentose_left_outline = [(7, 1370), (274, 1453), (257, 1474), (247, 1560), (26, 1560), (7, 1538)]
pentose_left_cells = [
    (37, 1411, 30, "#e5683c"), (98, 1417, 28, "#c04a26"), (157, 1477, 50, "#b2461c"), (190, 1460, 40, "#b84a20"),
    (248, 1456, 18, "#c04e20"), (227, 1511, 30, "#bd4a22"), (73, 1494, 60, "#c7552e"), (18, 1445, 15, "#e0603a"),
    (25, 1510, 20, "#c65230"), (142, 1540, 20, "#c04f22"), (200, 1540, 25, "#c75432"), (110, 1552, 8, "#d0603a"),
]
pentose_right_outline = [(274, 1453), (458, 1509), (458, 1560), (247, 1560), (257, 1474)]
pentose_right_cells = [(343, 1499, 60, "#c85a2a"), (401, 1553, 60, "#c25225")]

carbohydrate_outline = [(634, 1137), (787, 1407), (670, 1477), (552, 1412)]
carbohydrate_cells = [
    (641, 1292, 58, "#b65d13"), (657, 1424, 35, "#d27127"), (625, 1430, 28, "#b96007"), (641, 1191, 28, "#cd6b2a"),
    (637, 1157, 8, "#a5520a"), (661, 1224, 18, "#b25c0a"), (618, 1230, 12, "#a85a08"), (687, 1246, 13, "#cb6c2a"),
    (709, 1281, 12, "#bc6425"), (700, 1265, 5, "#a85a10"), (714, 1296, 7, "#a85a10"), (724, 1317, 14, "#b25c0a"),
    (703, 1312, 9, "#b45c08"), (699, 1346, 20, "#ad5408"), (737, 1347, 22, "#a85818"), (587, 1330, 12, "#b85c10"),
    (591, 1357, 19, "#cb6a28"), (572, 1379, 14, "#b55a14"), (561, 1400, 8, "#b05810"), (582, 1412, 20, "#c56a20"),
    (604, 1391, 16, "#cc6a2a"), (641, 1371, 22, "#cd6a28"), (679, 1359, 14, "#db7330"), (696, 1399, 19, "#a85808"),
    (737, 1387, 20, "#b45a1e"), (724, 1421, 20, "#c26620"), (755, 1406, 13, "#b8601a"), (757, 1418, 9, "#ce6a28"),
    (759, 1372, 8, "#a8581a"), (764, 1377, 7, "#c06425"), (776, 1399, 9, "#a85818"), (694, 1424, 6, "#b05c18"),
    (697, 1439, 6, "#cc6a28"), (690, 1454, 12, "#cb6a28"), (713, 1430, 8, "#c26620"), (710, 1448, 5, "#a55a10"),
    (677, 1470, 6, "#cf7030"), (661, 1470, 5, "#b85c10"), (599, 1435, 5, "#b05810"),
]

other_central_outline = [(552, 1412), (670, 1477), (672, 1560), (458, 1560), (458, 1509)]
other_central_cells = [
    (627, 1486, 32, "#a65a2e"), (554, 1467, 35, "#9a5216"), (596, 1455, 18, "#aa5f24"), (575, 1436, 12, "#96561e"),
    (555, 1424, 10, "#a96324"), (624, 1541, 28, "#a55a22"), (658, 1519, 13, "#a55a22"), (661, 1545, 12, "#ab6228"),
    (665, 1493, 7, "#a85a28"), (569, 1545, 13, "#a66230"), (541, 1534, 25, "#b06a2a"), (590, 1555, 5, "#9c5420"),
    (483, 1530, 18, "#a65820"), (515, 1540, 10, "#ab6026"),
]

pyruvate_outline = [(670, 1477), (787, 1407), (880, 1560), (672, 1560)]
pyruvate_cells = [(760, 1490, 110, "#96500f"), (690, 1490, 100, "#97520e"), (680, 1545, 97, "#ad580e"), (890, 1575, 7, "#c96030")]

cell_cycle_outline = [(1560, 1314), (1560, 1412), (1519, 1396)]
cell_cycle_cells = [(1542, 1365, 24, "#cc2a40"), (1542, 1402, 10, "#e03844")]

cell_division_outline = [(1519, 1397), (1529, 1407), (1509, 1419)]
cell_division_cells = [(1519, 1408, 6, "#e03040")]

chemotaxis_outline = [(1509, 1421), (1529, 1407), (1560, 1412), (1560, 1476), (1494, 1449)]
chemotaxis_cells = [(1525, 1432, 24, "#fc2238"), (1552, 1463, 8, "#c80030")]

cytoskeleton_outline = [(1494, 1449), (1560, 1476), (1560, 1560), (1434, 1560)]
cytoskeleton_cells = [
    (1515, 1495, 32, "#e4304c"), (1470, 1525, 22, "#e4304c"), (1505, 1550, 16, "#c80c3c"), (1538, 1540, 20, "#fc3850"),
    (1556, 1556, 3, "#a00028"),
]

small_groups = [
    ([(133, 7), (157, 7), (148, 24)], "#2ce4f0"),
    ([(158, 7), (176, 7), (146, 50)], "#4a68d8"),
    ([(807, 7), (844, 7), (819, 28)], "#4d80f0"),
    ([(7, 181), (20, 185), (7, 198)], "#606060"),
    ([(7, 198), (22, 188), (7, 222)], "#c4733d"),
    ([(7, 353), (37, 375), (7, 380)], "#d9a040"),
    ([(7, 1357), (13, 1370), (7, 1378)], "#94561a"),
    ([(7, 1538), (26, 1560), (7, 1560)], "#c800a0"),
]

groups = [
    (two_component_outline, two_component_cells), (oxidative_outline, oxidative_cells),
    (translation_outline, translation_cells), (messenger_outline, messenger_cells),
    (mitochondrial_outline, mitochondrial_cells), (ribosome_outline, ribosome_cells),
    (trna_outline, trna_cells), (transfer_outline, transfer_cells),
    (ribo_biogenesis_outline, ribo_biogenesis_cells), (chaperones_outline, chaperones_cells),
    (sulfur_outline, sulfur_cells), (rna_degradation_outline, []),
    (protein_export_outline, protein_export_cells), (peptidases_outline, peptidases_cells),
    (chromosome_outline, chromosome_cells), (base_excision_outline, base_excision_cells),
    (mismatch_outline, mismatch_cells), (dna_repair_outline, dna_repair_cells),
    (dna_control_outline, dna_control_cells), (nucleotide_outline, nucleotide_cells),
    (dna_complex_outline, dna_complex_cells), (homologous_outline, homologous_cells),
    (dna_replication_outline, dna_replication_cells), (polymerase_outline, polymerase_cells),
    (basal_outline, basal_cells), (machinery_outline, machinery_cells),
    (factors_outline, factors_cells), (other_enzymes_outline, other_enzymes_cells),
    (lipid_outline, lipid_cells), (glycan_outline, glycan_cells),
    (secondary_outline, secondary_cells), (cofactor_outline, cofactor_cells),
    (purine_outline, purine_cells), (amino_outline, amino_cells),
    (pyrimidine_outline, pyrimidine_cells), (phospho_outline, phospho_cells),
    (transport_outline, transport_cells), (tca_outline, tca_cells),
    (glycolysis_outline, glycolysis_cells), (pentose_outline, []),
    (carbohydrate_outline, carbohydrate_cells), (other_central_outline, other_central_cells),
    (pyruvate_outline, pyruvate_cells), (cell_cycle_outline, cell_cycle_cells),
    (cell_division_outline, cell_division_cells), (chemotaxis_outline, chemotaxis_cells),
    (cytoskeleton_outline, cytoskeleton_cells),
]

# groups split in two so their few cells fall where they do in the picture, no heavy border
split_parts = [
    (rna_main_outline, rna_main_cells), (rna_left_outline, rna_left_cells),
    (pentose_left_outline, pentose_left_cells), (pentose_right_outline, pentose_right_cells),
]

# the heavy borders between the top level regions
thick_paths = [
    [(119, 128), (1491, 1087), (1560, 1135)],
    [(157, 7), (119, 128), (7, 197)],
    [(1491, 1087), (1181, 1560)],
    [(1560, 1314), (1434, 1560)],
]
mid_paths = [
    [(372, 307), (7, 380)],
    [(1343, 227), (983, 730)],
    [(1343, 227), (1560, 358)],
    [(1317, 7), (1343, 227)],
    [(1560, 643), (1217, 891)],
    [(7, 764), (381, 697), (634, 1137), (880, 1560)],
    [(484, 533), (381, 697)],
    [(1509, 1421), (1494, 1449), (1560, 1476)],
]

label_text = [
    "Ribosome", "Transport", "Glycolysis", "Amino acid\nmetabolism", "Translation\nfactors",
    "Mitochondrial\nbiogenesis", "tRNA\nloading", "Oxidative\nphosphorylation", "Two-\ncomponent\nsystem",
    "TCA cycle and\nanaplerotic enzymes", "Pyrimidine\nmetabolism", "Pentose phosphate\nmetabolism",
    "Carbohydrate\nmetabolism", "Other\ncentral\nmetabolism\nenzymes", "Pyruvate\nmetabolism",
    "Purine\nmetabolism", "Lipid and\nsteroid\nmetabolism", "Glycan\nmetabolism", "Cofactor\nbiosynthesis",
    "Other\nenzymes", "Peptidases", "RNA\ndegradation", "Chaperones\nand folding\ncatalysts",
    "Chromosome-\nrelated", "DNA\nreplication\ncontrol", "Transcription\nfactors", "RNA\npolymerase",
    "Transcription\nmachinery", "Transfer\nRNA\nbiogenesis", "Ribosome\nbiogenesis",
    "Phosphotransferase\nsystem (PTS)", "Messenger\nRNA\nBiogenesis", "Protein\nexport", "Sulfur relay\nsystem",
    "Biosynthesis\nof other\nsecondary\nmetabolites", "Basal\ntranscription\nfactors", "Cell\ncycle",
    "Bacterial\nchemotaxis", "Cytoskeleton\nproteins", "Homologous\nrecombination",
    "DNA\nreplication\ncomplex", "DNA\nreplication", "Nucleotide\nexcision\nrepair", "Base\nexcision\nrepair",
    "Mismatch\nrepair", "DNA repair\nand\nrecombination\nproteins", "Bacterial\nmotility\nproteins",
]
label_x = [
    1025, 225, 285, 855, 320, 626, 629, 141, 63, 231, 547, 156, 660, 572, 754, 966, 1196, 1304, 1305, 1432,
    1432, 1405, 1177, 1438, 1495, 1466, 1476, 1307, 820, 965, 490, 468, 1317, 1209, 1248, 1544, 1546, 1532,
    1513, 1526, 1469, 1541, 1545, 1343, 1336, 1360, 1551,
]
label_y = [
    228, 532, 1222, 952, 125, 110, 340, 285, 80, 907, 575, 1504, 1373, 1512, 1521, 1413, 1382, 1279, 1132, 1357,
    403, 634, 630, 175, 47, 972, 808, 888, 560, 636, 431, 27, 304, 862, 939, 675, 1379, 1434, 1522, 288,
    285, 328, 184, 98, 54, 26, 1463,
]
label_size = [
    129, 110, 133, 112, 57.5, 48, 71, 40, 25, 52, 27, 37, 29, 27, 34, 58, 31, 20, 45, 46,
    52.5, 45, 33, 31, 29, 33, 37, 20, 21, 27, 12, 11, 13, 10.5, 6, 6, 14, 12,
    18, 12, 7, 10, 8, 8, 6.5, 6.5, 5,
]


def clip_half_plane(poly, a, b, c):
    # keep the part of poly with a*x + b*y <= c
    out = []
    for i in range(len(poly)):
        x1, y1 = poly[i]
        x2, y2 = poly[(i + 1) % len(poly)]
        d1 = a * x1 + b * y1 - c
        d2 = a * x2 + b * y2 - c
        if d1 <= 0:
            out.append((x1, y1))
        if (d1 < 0 and d2 > 0) or (d1 > 0 and d2 < 0):
            t = d1 / (d1 - d2)
            out.append((x1 + t * (x2 - x1), y1 + t * (y2 - y1)))
    return out


def power_cells(outline, cells):
    polys = []
    for i, (xi, yi, ri, colour) in enumerate(cells):
        poly = list(outline)
        for j, (xj, yj, rj, _) in enumerate(cells):
            if i == j:
                continue
            a = 2 * (xj - xi)
            b = 2 * (yj - yi)
            c = xj * xj + yj * yj - rj * rj - xi * xi - yi * yi + ri * ri
            poly = clip_half_plane(poly, a, b, c)
            if len(poly) < 3:
                break
        if len(poly) >= 3:
            polys.append((poly, colour))
    return polys


def closed(points):
    return [p[0] for p in points] + [points[0][0]], [p[1] for p in points] + [points[0][1]]


fig = go.Figure()

for outline, cells in groups + split_parts:
    for poly, colour in power_cells(outline, cells):
        xs, ys = closed(poly)
        fig.add_trace(go.Scatter(x=xs, y=ys, mode="lines", fill="toself", fillcolor=colour,
                                 line=dict(color="black", width=1), hoverinfo="skip"))

for outline, colour in small_groups:
    xs, ys = closed(outline)
    fig.add_trace(go.Scatter(x=xs, y=ys, mode="lines", fill="toself", fillcolor=colour,
                             line=dict(color="black", width=2), hoverinfo="skip"))

# group borders on top of the cells
for outline, cells in groups:
    xs, ys = closed(outline)
    fig.add_trace(go.Scatter(x=xs, y=ys, mode="lines", line=dict(color="black", width=3), hoverinfo="skip"))

for path in mid_paths:
    fig.add_trace(go.Scatter(x=[p[0] for p in path], y=[p[1] for p in path], mode="lines",
                             line=dict(color="black", width=4.5), hoverinfo="skip"))
for path in thick_paths:
    fig.add_trace(go.Scatter(x=[p[0] for p in path], y=[p[1] for p in path], mode="lines",
                             line=dict(color="black", width=7), hoverinfo="skip"))

for text, x, y, size in zip(label_text, label_x, label_y, label_size):
    lines = text.split("\n")
    step = size / PX
    # svg centres on the full line box, the glyphs sit a little higher
    y0 = y + 0.06 * size
    ys = [y0 + (k - (len(lines) - 1) / 2) * step for k in range(len(lines))]
    off = 2 if size >= 100 else 1
    fig.add_trace(go.Scatter(
        x=[x] * len(lines), y=ys, text=lines, mode="text", textposition="middle center",
        textfont=dict(family="DejaVu Sans", size=size, color="white", weight="bold",
                      shadow=f"{off}px {off}px 1px #404040"),
        hoverinfo="skip"))

fig.update_layout(
    width=2512, height=2512, margin=dict(l=0, r=0, t=0, b=0), showlegend=False,
    paper_bgcolor="black", plot_bgcolor="black",
    xaxis=dict(range=[0, PIC], visible=False, fixedrange=True),
    yaxis=dict(range=[PIC, 0], visible=False, fixedrange=True),
)

fig.write_html("out.html", config=dict(displayModeBar=False),
               post_script="document.body.style.margin='0';document.body.style.background='black';")
